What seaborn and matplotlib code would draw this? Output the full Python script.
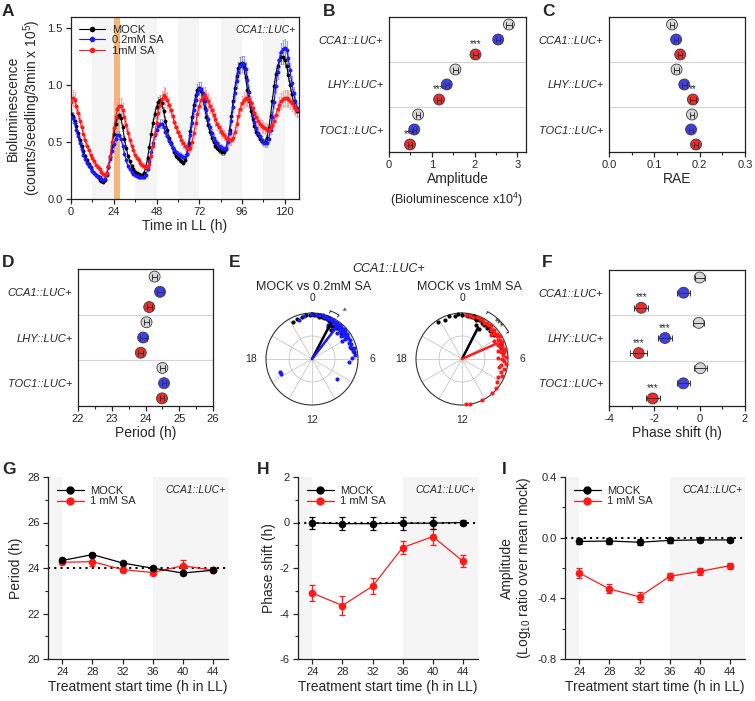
import matplotlib
matplotlib.use("Agg")
import matplotlib.pyplot as plt
from matplotlib.lines import Line2D
from matplotlib.ticker import MultipleLocator, FormatStrFormatter
import numpy as np
import pandas as pd
import seaborn as sns

# ---------------- A: bioluminescence traces (one reading per hour in LL)
time_ll = list(range(128))
lum_mock = [0.75, 0.73, 0.69, 0.64, 0.58, 0.52, 0.47, 0.42,
            0.38, 0.34, 0.31, 0.28, 0.25, 0.23, 0.21, 0.19,
            0.17, 0.16, 0.15, 0.17, 0.21, 0.28, 0.37, 0.47,
            0.57, 0.66, 0.72, 0.74, 0.71, 0.63, 0.53, 0.45,
            0.38, 0.33, 0.29, 0.26, 0.24, 0.23, 0.22, 0.21,
            0.21, 0.23, 0.28, 0.36, 0.46, 0.57, 0.67, 0.75,
            0.81, 0.85, 0.87, 0.84, 0.77, 0.69, 0.61, 0.54,
            0.49, 0.45, 0.41, 0.38, 0.36, 0.34, 0.33, 0.32,
            0.34, 0.40, 0.49, 0.60, 0.72, 0.83, 0.91, 0.96,
            0.98, 0.95, 0.88, 0.80, 0.72, 0.65, 0.59, 0.54,
            0.50, 0.47, 0.45, 0.43, 0.42, 0.41, 0.41, 0.44,
            0.51, 0.61, 0.73, 0.86, 0.98, 1.08, 1.15, 1.19,
            1.20, 1.16, 1.07, 0.96, 0.86, 0.77, 0.70, 0.64,
            0.59, 0.56, 0.53, 0.51, 0.50, 0.50, 0.54, 0.62,
            0.73, 0.86, 0.99, 1.10, 1.17, 1.22, 1.25, 1.25,
            1.22, 1.17, 1.09, 1.00, 0.92, 0.85, 0.80, 0.77]
lum_low = [0.72, 0.71, 0.67, 0.61, 0.55, 0.49, 0.44, 0.39,
           0.35, 0.32, 0.29, 0.27, 0.25, 0.23, 0.21, 0.20,
           0.19, 0.18, 0.17, 0.18, 0.22, 0.28, 0.35, 0.42,
           0.48, 0.53, 0.56, 0.56, 0.53, 0.47, 0.40, 0.34,
           0.29, 0.26, 0.24, 0.22, 0.21, 0.20, 0.19, 0.19,
           0.19, 0.19, 0.21, 0.26, 0.33, 0.41, 0.49, 0.56,
           0.61, 0.64, 0.66, 0.66, 0.63, 0.59, 0.55, 0.51,
           0.48, 0.45, 0.43, 0.41, 0.40, 0.39, 0.38, 0.37,
           0.37, 0.40, 0.47, 0.56, 0.67, 0.78, 0.87, 0.93,
           0.97, 0.97, 0.93, 0.86, 0.78, 0.70, 0.63, 0.58,
           0.54, 0.51, 0.49, 0.47, 0.46, 0.45, 0.44, 0.45,
           0.50, 0.58, 0.69, 0.81, 0.93, 1.04, 1.12, 1.17,
           1.19, 1.19, 1.14, 1.05, 0.94, 0.84, 0.75, 0.68,
           0.62, 0.58, 0.55, 0.52, 0.50, 0.49, 0.49, 0.53,
           0.61, 0.72, 0.85, 0.99, 1.12, 1.22, 1.29, 1.32,
           1.33, 1.31, 1.24, 1.13, 1.02, 0.93, 0.86, 0.80]
lum_high = [0.85, 0.89, 0.87, 0.82, 0.76, 0.69, 0.63, 0.57,
            0.52, 0.47, 0.43, 0.39, 0.36, 0.33, 0.30, 0.28,
            0.26, 0.24, 0.22, 0.21, 0.23, 0.29, 0.38, 0.50,
            0.62, 0.72, 0.79, 0.82, 0.82, 0.78, 0.72, 0.65,
            0.58, 0.52, 0.47, 0.43, 0.39, 0.36, 0.34, 0.32,
            0.30, 0.29, 0.28, 0.28, 0.31, 0.38, 0.47, 0.57,
            0.67, 0.76, 0.83, 0.88, 0.91, 0.90, 0.87, 0.83,
            0.78, 0.73, 0.68, 0.63, 0.59, 0.55, 0.52, 0.49,
            0.47, 0.45, 0.44, 0.45, 0.50, 0.58, 0.67, 0.75,
            0.82, 0.87, 0.90, 0.91, 0.89, 0.86, 0.82, 0.78,
            0.74, 0.70, 0.66, 0.63, 0.60, 0.58, 0.56, 0.54,
            0.53, 0.52, 0.52, 0.54, 0.59, 0.66, 0.73, 0.79,
            0.84, 0.87, 0.89, 0.89, 0.87, 0.84, 0.80, 0.76,
            0.72, 0.69, 0.66, 0.64, 0.63, 0.62, 0.61, 0.61,
            0.62, 0.65, 0.69, 0.74, 0.79, 0.83, 0.86, 0.88,
            0.89, 0.89, 0.88, 0.86, 0.84, 0.82, 0.80, 0.78]
lum_sem_frac = [0.05, 0.06, 0.08]      # relative SEM of each trace
night_starts = [12, 36, 60, 84, 108]   # subjective nights in LL
sa_window = (24, 27.5)                 # SA treatment
trace_names = ["MOCK", "0.2mM SA", "1mM SA"]

# ---------------- B, C, D, F: reporter summaries
genes = ["CCA1::LUC+", "LHY::LUC+", "TOC1::LUC+"]
treatments = ["MOCK", "0.2mM SA", "1mM SA"]

amp_mock = [2.80, 1.55, 0.68]
amp_low = [2.55, 1.35, 0.59]
amp_high = [2.02, 1.17, 0.49]
amp_mock_err = [0.07, 0.06, 0.05]
amp_low_err = [0.05, 0.05, 0.04]
amp_high_err = [0.06, 0.05, 0.05]
amp_stars = [(0, 2, "***"), (1, 2, "***"), (2, 2, "***")]

rae_mock = [0.139, 0.149, 0.183]
rae_low = [0.148, 0.166, 0.181]
rae_high = [0.157, 0.185, 0.192]
rae_mock_err = [0.005, 0.005, 0.005]
rae_low_err = [0.005, 0.006, 0.005]
rae_high_err = [0.005, 0.006, 0.005]
rae_stars = [(1, 2, "**")]

per_mock = [24.27, 24.03, 24.50]
per_low = [24.43, 23.93, 24.55]
per_high = [24.11, 23.86, 24.49]
per_mock_err = [0.08, 0.08, 0.08]
per_low_err = [0.08, 0.10, 0.07]
per_high_err = [0.08, 0.08, 0.07]
per_stars = []

ph_mock = [0.00, -0.04, 0.03]
ph_low = [-0.71, -1.53, -0.72]
ph_high = [-2.58, -2.69, -2.07]
ph_mock_err = [0.22, 0.25, 0.30]
ph_low_err = [0.30, 0.33, 0.30]
ph_high_err = [0.30, 0.38, 0.30]
ph_stars = [(0, 2, "***"), (1, 1, "***"), (1, 2, "***"), (2, 2, "***")]

# ---------------- E: phases (h) and vector lengths of single seedlings
mock_a_phase = [22.2, 22.6, 23.1, 23.5, 23.8, 0.0, 0.2, 0.4, 0.6, 0.7,
                0.9, 1.0, 1.1, 1.2, 1.3, 1.4, 1.5, 1.6, 1.7, 1.8,
                1.9, 2.0, 2.1, 2.2, 2.3, 2.4, 2.5, 2.6, 2.8, 3.0,
                3.2, 3.5, 1.8, 2.2, 4.9, 5.4]
mock_a_len = [0.90, 0.93, 0.95, 0.96, 0.95, 0.97, 0.95, 0.96, 0.93, 0.97,
              0.94, 0.96, 0.92, 0.95, 0.97, 0.93, 0.96, 0.90, 0.94, 0.92,
              0.88, 0.93, 0.85, 0.90, 0.88, 0.92, 0.86, 0.90, 0.87, 0.88,
              0.85, 0.84, 0.78, 0.74, 0.88, 0.92]
low_phase = [22.8, 23.3, 23.9, 0.3, 0.6, 0.9, 1.1, 1.3, 1.5, 1.6,
             1.8, 1.9, 2.0, 2.1, 2.2, 2.3, 2.4, 2.5, 2.6, 2.7,
             2.8, 2.9, 3.0, 3.1, 3.2, 3.3, 3.4, 3.5, 3.6, 3.7,
             3.8, 3.9, 4.0, 4.2, 4.4, 4.6, 4.8, 5.0, 5.3, 5.6,
             5.9, 6.3, 1.7, 2.3, 2.9, 3.4, 3.9, 8.6, 16.3, 16.5]
low_len = [0.90, 0.96, 0.98, 0.97, 0.96, 0.98, 0.95, 0.97, 0.93, 0.96,
           0.94, 0.97, 0.91, 0.95, 0.92, 0.96, 0.89, 0.93, 0.95, 0.90,
           0.94, 0.87, 0.92, 0.95, 0.88, 0.93, 0.90, 0.86, 0.94, 0.89,
           0.92, 0.85, 0.90, 0.93, 0.88, 0.91, 0.86, 0.95, 0.90, 0.93,
           0.87, 0.80, 0.82, 0.80, 0.78, 0.80, 0.76, 0.70, 0.74, 0.76]
mock_b_phase = [21.8, 22.4, 22.9, 23.4, 23.7, 0.0, 0.3, 0.5, 0.7, 0.9,
                1.0, 1.2, 1.3, 1.5, 1.6, 1.8, 1.9, 2.1, 2.2, 2.4,
                2.6, 2.8, 3.0, 3.3, 3.6, 1.5, 2.0, 4.6, 4.9, 5.2]
mock_b_len = [0.96, 0.93, 0.97, 0.95, 0.98, 0.96, 0.97, 0.94, 0.96, 0.93,
              0.97, 0.94, 0.91, 0.95, 0.92, 0.96, 0.89, 0.93, 0.87, 0.91,
              0.88, 0.90, 0.86, 0.89, 0.87, 0.80, 0.76, 0.90, 0.88, 0.93]
high_phase = [0.3, 0.7, 1.0, 1.3, 1.6, 1.9, 2.1, 2.3, 2.5, 2.7,
              2.9, 3.0, 3.2, 3.3, 3.5, 3.6, 3.8, 3.9, 4.1, 4.2,
              4.4, 4.5, 4.7, 4.8, 5.0, 5.1, 5.3, 5.4, 5.6, 5.8,
              6.0, 6.2, 6.4, 6.6, 6.9, 7.2, 7.5, 7.8, 8.2, 8.7,
              9.2, 10.3, 11.3, 11.7, 3.4, 4.0, 4.6, 5.2, 5.9, 6.8]
high_len = [0.97, 0.96, 0.95, 0.97, 0.94, 0.96, 0.93, 0.95, 0.92, 0.96,
            0.93, 0.90, 0.95, 0.92, 0.89, 0.94, 0.91, 0.96, 0.88, 0.93,
            0.90, 0.95, 0.87, 0.92, 0.89, 0.96, 0.86, 0.93, 0.90, 0.95,
            0.88, 0.92, 0.97, 0.86, 0.93, 0.90, 0.95, 0.88, 0.92, 0.96,
            0.99, 0.99, 0.99, 0.99, 0.82, 0.80, 0.83, 0.80, 0.78, 0.82]
# mean vectors (phase h, length)
mean_mock_a, mean_low = (1.85, 0.86), (2.5, 0.91)
mean_mock_b, mean_high = (1.8, 0.77), (4.4, 0.83)

# ---------------- G, H, I: treatment start time series
treat_start = [24, 28, 32, 36, 40, 44]
shift_per_mock = [24.33, 24.59, 24.22, 23.99, 23.78, 23.90]
shift_per_mock_err = [0.05, 0.06, 0.05, 0.05, 0.05, 0.05]
shift_per_sa = [24.25, 24.28, 23.93, 23.80, 24.10, 23.90]
shift_per_sa_err = [0.08, 0.20, 0.10, 0.07, 0.25, 0.06]
shift_ph_mock = [-0.02, -0.05, -0.05, -0.03, -0.03, 0.00]
shift_ph_mock_err = [0.25, 0.28, 0.28, 0.28, 0.25, 0.12]
shift_ph_sa = [-3.10, -3.65, -2.80, -1.10, -0.62, -1.70]
shift_ph_sa_err = [0.35, 0.40, 0.35, 0.27, 0.35, 0.25]
shift_amp_mock = [-0.025, -0.022, -0.030, -0.018, -0.015, -0.015]
shift_amp_mock_err = [0.020, 0.020, 0.020, 0.015, 0.012, 0.015]
shift_amp_sa = [-0.233, -0.338, -0.390, -0.255, -0.222, -0.185]
shift_amp_sa_err = [0.035, 0.030, 0.035, 0.025, 0.025, 0.020]

# ---------------- style
sns.set_theme(style="ticks")
plt.rcParams["font.family"] = ["Liberation Sans", "DejaVu Sans"]
plt.rcParams.update({
    "mathtext.fontset": "custom",
    "mathtext.rm": "Liberation Sans",
    "mathtext.it": "Liberation Sans:italic",
    "axes.linewidth": 0.9,
    "axes.edgecolor": "#222222",
    "xtick.major.width": 0.9, "ytick.major.width": 0.9,
    "xtick.minor.width": 0.8, "ytick.minor.width": 0.8,
    "xtick.major.size": 3.5, "ytick.major.size": 3.5,
    "xtick.minor.size": 2.0, "ytick.minor.size": 2.0,
    "xtick.major.pad": 2.5, "ytick.major.pad": 2.5,
    "xtick.labelsize": 8, "ytick.labelsize": 8,
    "axes.labelsize": 10,
})

trace_colors = ["#000000", "#1a1aff", "#ff1a1a"]
trace_err_colors = ["#808080", "#8c8cff", "#ff8c8c"]
dot_palette = {"MOCK": "#d6d6d6", "0.2mM SA": "#3d3df2", "1mM SA": "#ee2b2b"}
shade = "#f5f5f5"

W, H = 755, 701
fig = plt.figure(figsize=(W / 100, H / 100), dpi=100)


def px_axes(left, top, right, bottom, **kw):
    return fig.add_axes([left / W, 1 - bottom / H, (right - left) / W, (bottom - top) / H], **kw)


def fig_text(x, y, s, **kw):
    fig.text(x / W, 1 - y / H, s, **kw)


def panel_letter(x, y, s):
    fig_text(x, y, s, fontsize=12.5, fontweight="bold", va="top", ha="left")


# ---------------- A
ax = px_axes(71, 17, 299, 199)
for start in night_starts:
    ax.axvspan(start, start + 12, color=shade, lw=0, zorder=0)
ax.axvspan(*sa_window, color="#f7b47a", lw=0, zorder=0.5)
traces = [lum_mock, lum_low, lum_high]
for vals, frac, col, ecol in zip(traces, lum_sem_frac, trace_colors, trace_err_colors):
    vals = np.array(vals)
    ax.errorbar(time_ll, vals, yerr=vals * frac, fmt="none", ecolor=ecol,
                elinewidth=0.6, capsize=0.8, capthick=0.5, zorder=2)
    sns.lineplot(x=time_ll, y=vals, color=col, lw=0.8, marker="o", markersize=2.8,
                 markeredgewidth=0, ax=ax, zorder=3)
ax.set_xlim(0, 128)
ax.set_ylim(0, 1.6)
ax.set_xticks(range(0, 121, 24))
ax.xaxis.set_minor_locator(MultipleLocator(12))
ax.set_yticks([0, 0.5, 1.0, 1.5])
ax.yaxis.set_major_formatter(FormatStrFormatter("%.1f"))
ax.set_xlabel("Time in LL (h)", labelpad=1)
ax.set_ylabel("Bioluminescence\n(counts/seedling/3min x 10$^5$)", labelpad=3, linespacing=1.1)
handles = [Line2D([], [], color=c, lw=0.8, marker="o", markersize=3) for c in trace_colors]
ax.legend(handles, trace_names, loc="upper left", frameon=False, fontsize=8,
          handlelength=2.4, handletextpad=0.6, labelspacing=0.05, borderaxespad=0.3)
ax.text(0.985, 0.955, "CCA1::LUC+", transform=ax.transAxes, ha="right", va="top",
        fontsize=7.5, style="italic")


# ---------------- dot panels
def dot_panel(box, mock, low, high, mock_err, low_err, high_err, stars,
              xlim, major, minor, fmt, xlabel):
    ax = px_axes(*box)
    rows, vals, errs, groups = [], [], [], []
    for gi in range(len(genes)):
        for ti, (v, e) in enumerate([(mock, mock_err), (low, low_err), (high, high_err)]):
            rows.append(3 * gi + ti)
            vals.append(v[gi])
            errs.append(e[gi])
            groups.append(treatments[ti])
    df = pd.DataFrame({"row": rows, "value": vals, "err": errs, "treatment": groups})
    for sep in [2.5, 5.5]:
        ax.axhline(sep, color="#d4d4d4", lw=0.8, zorder=1)
    sns.scatterplot(data=df, x="value", y="row", hue="treatment", palette=dot_palette,
                    s=62, edgecolor="#3a3a3a", linewidth=0.6, legend=False, ax=ax, zorder=3)
    ax.errorbar(df["value"], df["row"], xerr=df["err"], fmt="none", ecolor="#333333",
                elinewidth=0.7, capsize=2.2, capthick=0.7, zorder=4)
    for gi, ti, label in stars:
        ax.text(df["value"][3 * gi + ti], 3 * gi + ti - 0.35, label, ha="center",
                va="bottom", fontsize=7)
    ax.set_ylim(8.5, -0.5)
    ax.set_yticks([1, 4, 7])
    ax.set_yticklabels(genes, style="italic", fontsize=8)
    ax.tick_params(axis="y", length=0, pad=4)
    ax.set_xlim(*xlim)
    ax.xaxis.set_major_locator(MultipleLocator(major))
    ax.xaxis.set_minor_locator(MultipleLocator(minor))
    ax.xaxis.set_major_formatter(FormatStrFormatter(fmt))
    ax.set_ylabel("")
    ax.set_xlabel(xlabel, labelpad=1)
    return ax


dot_panel((389, 17, 526, 152), amp_mock, amp_low, amp_high, amp_mock_err, amp_low_err,
          amp_high_err, amp_stars, (0, 3.2), 1, 0.5, "%d", "Amplitude")
fig_text(457, 200, "(Bioluminescence x10$^4$)", ha="center", va="center", fontsize=9)
dot_panel((609, 17, 745, 152), rae_mock, rae_low, rae_high, rae_mock_err, rae_low_err,
          rae_high_err, rae_stars, (0, 0.3), 0.1, 0.05, "%.1f", "RAE")
dot_panel((78, 269, 213, 406), per_mock, per_low, per_high, per_mock_err, per_low_err,
          per_high_err, per_stars, (22, 26), 1, 0.5, "%d", "Period (h)")
dot_panel((609, 270, 745, 406), ph_mock, ph_low, ph_high, ph_mock_err, ph_low_err,
          ph_high_err, ph_stars, (-4, 2), 2, 1, "%d", "Phase shift (h)")


# ---------------- E: polar phase plots
def to_rad(hours):
    return np.array(hours) / 24.0 * 2 * np.pi


def polar_panel(cx, cy, groups, vectors, bracket, star):
    rad = 46
    pax = fig.add_axes([(cx - rad) / W, 1 - (cy + rad) / H, 2 * rad / W, 2 * rad / H],
                       projection="polar")
    pax.set_theta_zero_location("N")
    pax.set_theta_direction(-1)
    for phase, length, col in groups:
        sns.scatterplot(x=to_rad(phase), y=length, color=col, s=9, linewidth=0,
                        ax=pax, clip_on=False, zorder=3)
    for (phase, length), col in vectors:
        pax.plot(to_rad([phase, phase]), [0, length], color=col, lw=1.8, zorder=4)
    pax.set_ylim(0, 1)
    pax.set_xticks(to_rad(range(0, 24, 2)))
    pax.set_xticklabels([])
    pax.set_yticks([0.5])
    pax.set_yticklabels([])
    pax.grid(color="#bdbdbd", lw=0.5)
    pax.spines["polar"].set_color("#333333")
    pax.spines["polar"].set_linewidth(0.8)
    pax.set_xlabel("")
    pax.set_ylabel("")
    for hr in [0, 6, 12, 18]:
        pax.text(to_rad(hr), 1.32, str(hr), ha="center", va="center", fontsize=7.5)
    lo, hi, r = bracket
    arc = np.linspace(to_rad(lo), to_rad(hi), 30)
    pax.plot(arc, [r] * len(arc), color="#222222", lw=0.7, clip_on=False)
    for end in [lo, hi]:
        pax.plot(to_rad([end, end]), [r - 0.05, r], color="#222222", lw=0.7, clip_on=False)
    label, at, rs, rot = star
    pax.text(to_rad(at), rs, label, ha="center", va="center", fontsize=7,
             rotation=rot, clip_on=False)


polar_panel(312, 359,
            [(mock_a_phase, mock_a_len, "black"), (low_phase, low_len, "#1a1aff")],
            [(mean_mock_a, "black"), (mean_low, "#1a1aff")],
            (1.4, 2.1, 1.12), ("*", 2.1, 1.24, -60))
polar_panel(462, 359,
            [(mock_b_phase, mock_b_len, "black"), (high_phase, high_len, "#ff1a1a")],
            [(mean_mock_b, "black"), (mean_high, "#ff1a1a")],
            (1.9, 4.0, 1.17), ("***", 3.0, 1.09, -45))
fig_text(389, 269, "CCA1::LUC+", ha="center", va="center", fontsize=9, style="italic")
fig_text(314, 287, "MOCK vs 0.2mM SA", ha="center", va="center", fontsize=9)
fig_text(469, 287, "MOCK vs 1mM SA", ha="center", va="center", fontsize=9)


# ---------------- G, H, I
def shift_panel(box, mock, mock_err, sa, sa_err, ylim, major, minor, fmt, ref, ylabel):
    ax = px_axes(*box)
    ax.axvspan(22.1, 24, color=shade, lw=0, zorder=0)
    ax.axvspan(36, 46, color=shade, lw=0, zorder=0)
    ax.axhline(ref, color="black", ls=(0, (1, 2)), lw=1.5, zorder=1)
    for vals, errs, col in [(sa, sa_err, "#ff1a1a"), (mock, mock_err, "black")]:
        ax.errorbar(treat_start, vals, yerr=errs, fmt="none", ecolor=col, elinewidth=0.9,
                    capsize=2.5, capthick=0.9, zorder=3)
        sns.lineplot(x=treat_start, y=vals, color=col, lw=0.9, marker="o", markersize=5.5,
                     markeredgewidth=0, ax=ax, zorder=4)
    ax.set_xlim(22.1, 46)
    ax.set_xticks(treat_start)
    ax.set_ylim(*ylim)
    ax.yaxis.set_major_locator(MultipleLocator(major))
    ax.yaxis.set_minor_locator(MultipleLocator(minor))
    ax.yaxis.set_major_formatter(FormatStrFormatter(fmt))
    sns.despine(ax=ax)
    ax.set_xlabel("Treatment start time (h in LL)", labelpad=2)
    ax.set_ylabel(ylabel, labelpad=3, linespacing=1.1)
    handles = [Line2D([], [], color=c, lw=0.9, marker="o", markersize=5)
               for c in ["black", "#ff1a1a"]]
    ax.legend(handles, ["MOCK", "1 mM SA"], loc="upper left", frameon=False, fontsize=8,
              handlelength=2.4, handletextpad=0.6, labelspacing=0.05, borderaxespad=0.4)
    ax.text(0.985, 0.955, "CCA1::LUC+", transform=ax.transAxes, ha="right", va="top",
            fontsize=7.5, style="italic")
    return ax


shift_panel((48, 477, 228, 659), shift_per_mock, shift_per_mock_err, shift_per_sa,
            shift_per_sa_err, (20, 28), 2, 1, "%d", 24, "Period (h)")
shift_panel((298, 477, 478, 659), shift_ph_mock, shift_ph_mock_err, shift_ph_sa,
            shift_ph_sa_err, (-6, 2), 2, 1, "%d", 0, "Phase shift (h)")
shift_panel((565, 477, 745, 659), shift_amp_mock, shift_amp_mock_err, shift_amp_sa,
            shift_amp_sa_err, (-0.8, 0.4), 0.4, 0.2, "%.1f", 0,
            "Amplitude\n(Log$_{10}$ ratio over mean mock)")

for x, y, s in [(2, 4, "A"), (323, 4, "B"), (542, 4, "C"), (2, 255, "D"), (229, 255, "E"),
                (542, 255, "F"), (2, 462, "G"), (257, 462, "H"), (502, 462, "I")]:
    panel_letter(x, y, s)

fig.savefig("out.png", dpi=100)
